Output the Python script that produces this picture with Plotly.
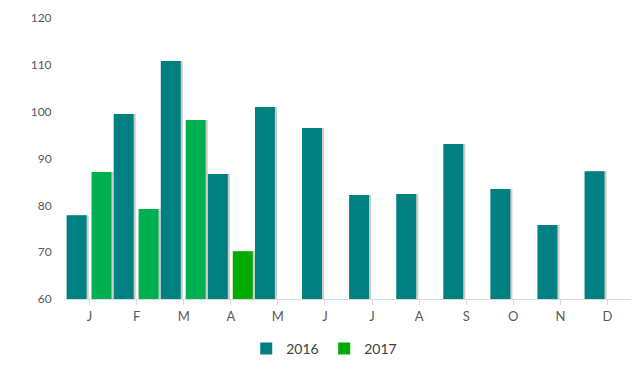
import plotly.graph_objects as go

months = ["J", "F", "M", "A", "M", "J", "J", "A", "S", "O", "N", "D"]
values_2016 = [77.9, 99.5, 110.8, 86.7, 101.0, 96.5, 82.2, 82.4, 93.1, 83.5, 75.8, 87.3]
values_2017 = [87.1, 79.2, 98.2, 70.2, None, None, None, None, None, None, None, None]
colors_2017 = ["#00B050", "#00B050", "#00B050", "#00AA00"] + ["#00AA00"] * 8
y_ticks = [60, 70, 80, 90, 100, 110, 120]

x_idx = list(range(len(months)))
teal = "#008080"
green_legend = "#00AA00"
bar_w = 0.424
off16 = -0.487
off17 = 0.042
shadow_shift = 0.045

fig = go.Figure()
for vals, off in ((values_2016, off16), (values_2017, off17)):
    fig.add_trace(go.Bar(x=x_idx, y=[None if v is None else v - 60 for v in vals], base=60,
                         width=bar_w, offset=off + shadow_shift,
                         marker=dict(color="rgba(0,0,0,0.2)", line=dict(width=0)),
                         showlegend=False, hoverinfo="skip"))
fig.add_trace(go.Bar(x=x_idx, y=[v - 60 for v in values_2016], base=60, name="2016",
                     width=bar_w, offset=off16,
                     marker=dict(color=teal, line=dict(width=0))))
fig.add_trace(go.Bar(x=x_idx, y=[None if v is None else v - 60 for v in values_2017], base=60, name="2017",
                     width=bar_w, offset=off17, showlegend=False,
                     marker=dict(color=colors_2017, line=dict(width=0))))
fig.add_trace(go.Bar(x=[0], y=[None], name="2017", marker=dict(color=green_legend, line=dict(width=0))))

fig.update_layout(
    width=636, height=361,
    margin=dict(l=58, r=13, t=10, b=70, autoexpand=False),
    plot_bgcolor="white", paper_bgcolor="white",
    barmode="overlay",
    font=dict(family="Lato, sans-serif", color="#595959", size=12),
    showlegend=True,
    legend=dict(orientation="h", x=0.457, xanchor="center",
                y=-0.178, yanchor="middle", entrywidth=33, entrywidthmode="pixels",
                font=dict(size=14, color="#404040"), itemwidth=30, traceorder="normal"),
    xaxis=dict(tickmode="array", tickvals=x_idx, ticktext=months, range=[-0.5, 11.5],
               showgrid=False, showline=True, linecolor="#D9D9D9", linewidth=1,
               ticks="outside", tickson="boundaries", ticklen=5, tickcolor="#D9D9D9",
               tickfont=dict(size=13, color="#595959"), zeroline=False),
    yaxis=dict(range=[60, 120], tickvals=y_ticks, showgrid=False, showline=False,
               zeroline=False, ticks="outside", ticklen=11, tickcolor="rgba(0,0,0,0)",
               tickfont=dict(size=12, color="#595959")),
)
fig.write_html("out.html")
